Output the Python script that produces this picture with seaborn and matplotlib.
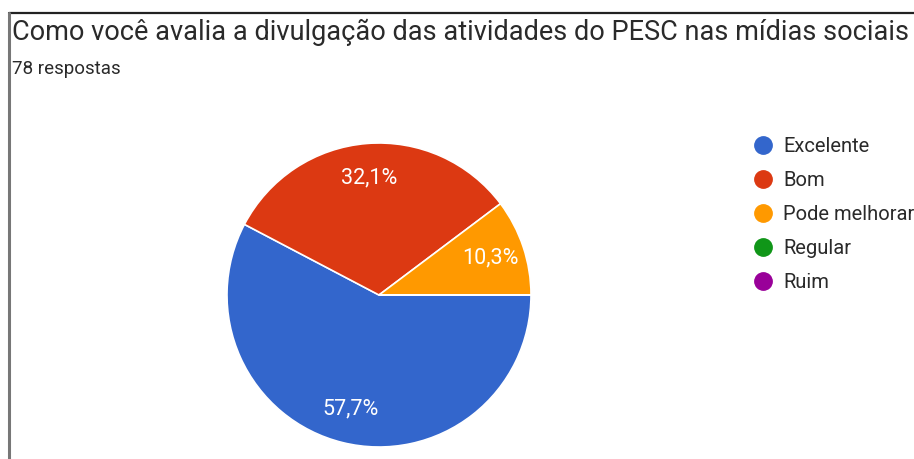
import matplotlib
matplotlib.use("Agg")
import matplotlib.pyplot as plt
from matplotlib.lines import Line2D
import seaborn as sns

title = "Como você avalia a divulgação das atividades do PESC nas mídias sociais"
subtitle = "78 respostas"
categories = ["Excelente", "Bom", "Pode melhorar", "Regular", "Ruim"]
counts = [45, 25, 8, 0, 0]
colors = ["#3366CC", "#DC3912", "#FF9900", "#109618", "#990099"]

sns.set_theme(style="white")
plt.rcParams["font.family"] = ["Roboto", "DejaVu Sans"]

W, H = 914, 459
fig = plt.figure(figsize=(W / 100, H / 100), dpi=100)
fig.patch.set_facecolor("white")

# frame lines (top and left)
fig.add_artist(Line2D([9 / W, 1], [1 - 13 / H, 1 - 13 / H], color="#222222", lw=1.6))
fig.add_artist(Line2D([9 / W, 9 / W], [0, 1 - 13 / H], color="#777777", lw=2.2))

fig.text(12 / W, 1 - 40 / H, title, fontsize=19.5, color="#2a2a2a", va="baseline", ha="left")
fig.text(12 / W, 1 - 74 / H, subtitle, fontsize=13.5, color="#2a2a2a", va="baseline", ha="left")

cx, cy, r = 379, 295, 152
ax = fig.add_axes([(cx - r) / W, (H - cy - r) / H, 2 * r / W, 2 * r / H])


def fmt(p):
    return "" if p < 0.05 else f"{p:.1f}%".replace(".", ",")


wedges, texts, autotexts = ax.pie(
    counts,
    colors=colors,
    startangle=0,
    counterclock=False,
    autopct=fmt,
    pctdistance=0.77,
    wedgeprops=dict(edgecolor="white", linewidth=1.2),
    textprops=dict(color="white", fontsize=15.5),
)
ax.set_xlim(-1, 1)
ax.set_ylim(-1, 1)
ax.set_aspect("equal")
ax.axis("off")

handles = [
    Line2D([], [], marker="o", linestyle="none", markersize=12.5,
           markerfacecolor=c, markeredgecolor=c)
    for c in colors
]
leg = fig.legend(
    handles, categories,
    loc="upper left",
    bbox_to_anchor=(749 / W, 1 - 137 / H),
    frameon=False,
    fontsize=14.5,
    handletextpad=0.3,
    labelspacing=0.74,
    handlelength=1.4,
    borderaxespad=0,
    borderpad=0,
)
for t in leg.get_texts():
    t.set_color("#2a2a2a")

fig.savefig("out.png", dpi=100)
